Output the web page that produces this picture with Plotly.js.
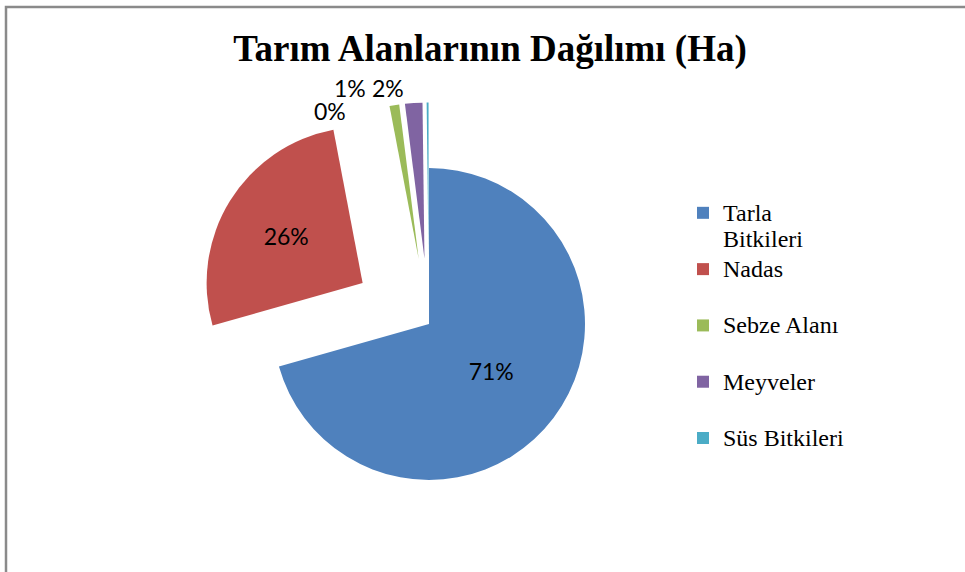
<!DOCTYPE html>
<html>
<head>
<meta charset="utf-8">
<script src="https://cdn.plot.ly/plotly-3.0.1.min.js"></script>
<style>html,body{margin:0;padding:0;background:#fff;}#chart{width:965px;height:572px;}</style>
</head>
<body>
<div id="chart"></div>
<script>
const categories = ["Tarla Bitkileri", "Nadas", "Sebze Alanı", "Meyveler", "Süs Bitkileri"];
const areaValues = [70.6, 26.4, 1.0, 1.8, 0.2];
const sliceColors = ["#4F81BD", "#C0504D", "#9BBB59", "#8064A2", "#4BACC6"];
const chartTitle = "Tarım Alanlarının Dağılımı (Ha)";

const W = 965, H = 572;
const cx = 429, cy = 324, R = 156, maxPull = 0.5;
const half = R * (1 + maxPull);
const LBL_FONT = "Lato, 'Open Sans', sans-serif";
const SERIF = "'Liberation Serif', 'Times New Roman', serif";

// legend names: Excel-like wrapping, two lines per entry
const big = s => '<span style="font-size:24px">' + s + '</span>';
const legendNames = categories.map(c => c === "Tarla Bitkileri"
  ? big("Tarla") + "<br>" + big("Bitkileri")
  : big(c) + "<br>\u00a0");

const total = areaValues.reduce((a, b) => a + b, 0);
const pctText = areaValues.map(v => Math.round(v / total * 100) + "%");
const insideIdx = areaValues.map(v => v / total > 0.05);

// outside labels (small slices) placed like the original, above the exploded slivers
const outsideLabelPos = {2: [350, 88], 3: [388, 88], 4: [330, 111]};

const trace = {
  type: "pie",
  labels: legendNames,
  values: areaValues,
  sort: false,
  direction: "clockwise",
  rotation: 0,
  pull: [0, 0.5, 0.42, 0.42, 0.42],
  marker: {colors: sliceColors, line: {width: 0}},
  texttemplate: "%{percent:.0%}",
  textposition: insideIdx.map(b => b ? "inside" : "none"),
  insidetextorientation: "horizontal",
  insidetextfont: {family: LBL_FONT, size: 23, color: "#000"},
  textfont: {family: LBL_FONT, size: 23, color: "#000"},
  hoverinfo: "label+percent",
  domain: {
    x: [(cx - half) / W, (cx + half) / W],
    y: [(H - cy - half) / H, (H - cy + half) / H]
  }
};

const annotations = [];
areaValues.forEach((v, i) => {
  if (insideIdx[i]) return;
  const p = outsideLabelPos[i];
  annotations.push({
    text: pctText[i], xref: "paper", yref: "paper",
    x: p[0] / W, y: 1 - p[1] / H, xanchor: "center", yanchor: "middle",
    showarrow: false, font: {family: LBL_FONT, size: 23, color: "#000"}
  });
});

const layout = {
  width: W, height: H,
  margin: {l: 0, r: 0, t: 0, b: 0},
  paper_bgcolor: "#fff",
  showlegend: true,
  title: {
    text: "<b>" + chartTitle + "</b>",
    font: {family: SERIF, size: 37, color: "#000"},
    x: 490 / W, xanchor: "center",
    y: 1 - 48 / H, yanchor: "middle"
  },
  legend: {
    x: 683 / W, xanchor: "left",
    y: 1 - 193 / H, yanchor: "top",
    valign: "top",
    itemwidth: 30,
    font: {family: SERIF, size: 20.5, color: "#000"},
    bgcolor: "rgba(0,0,0,0)",
    traceorder: "normal"
  },
  annotations: annotations,
  shapes: [{
    type: "rect", xref: "paper", yref: "paper",
    x0: 6 / W, x1: 1.05, y0: -0.05, y1: 1 - 7 / H,
    line: {color: "#8a8a8a", width: 2.5}, fillcolor: "rgba(0,0,0,0)", layer: "below"
  }]
};

Plotly.newPlot("chart", [trace], layout, {displayModeBar: false, staticPlot: true});
</script>
</body>
</html>
